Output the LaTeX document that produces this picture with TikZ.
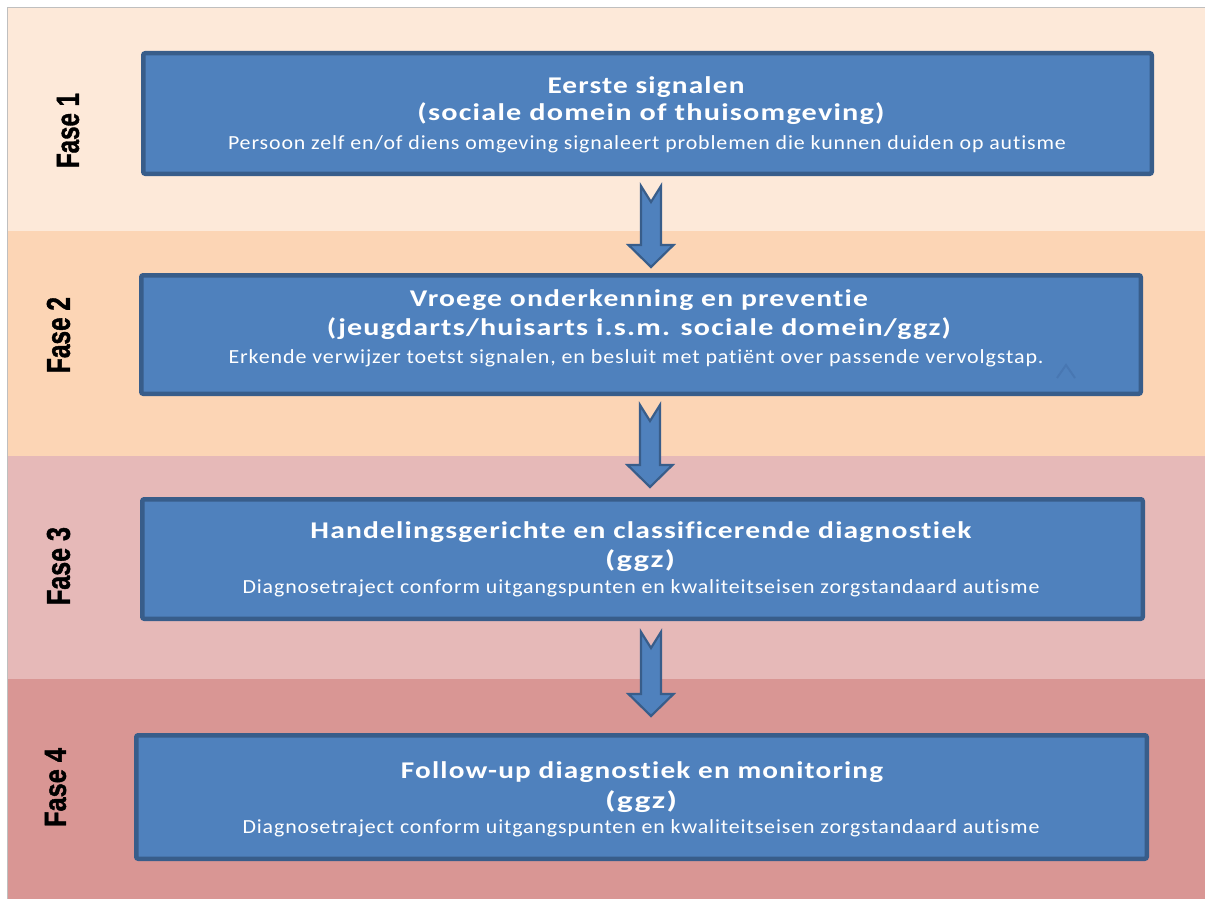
\documentclass[tikz,border=0pt]{standalone}
\usepackage{fontspec}
\usepackage{graphicx}
\newfontfamily\calfont[LetterSpace=4,Ligatures={NoCommon}]{Carlito}
\newfontfamily\arialfont[FakeBold=1.5]{Liberation Sans}
\definecolor{bandA}{HTML}{FDE9D9}
\definecolor{bandB}{HTML}{FCD5B5}
\definecolor{bandC}{HTML}{E6B9B8}
\definecolor{bandD}{HTML}{D99694}
\definecolor{boxfill}{HTML}{4F81BD}
\definecolor{boxline}{HTML}{385D8A}
\definecolor{frameline}{HTML}{BFBFBF}
\definecolor{chevcol}{HTML}{4877B2}
\newcommand\fitto[2]{\resizebox{#1}{\height}{#2}}
\tikzset{
  phasebox/.style={draw=boxline, fill=boxfill, line width=4.5pt, rounded corners=2pt, inner sep=0pt},
  ttl/.style={text=white, inner sep=0pt, anchor=base, font=\calfont\bfseries\fontsize{24}{28}\selectfont},
  subt/.style={text=white, inner sep=0pt, anchor=base, font=\calfont\fontsize{20}{22}\selectfont},
  fase/.style={rotate=90, inner sep=0pt, text=black, font=\arialfont\bfseries\fontsize{24}{26}\selectfont},
  arrowsty/.style={draw=boxline, fill=boxfill, line width=2.2pt, line join=miter},
  pics/downarr/.style={code={
    \draw[arrowsty] (-10,0) -- (0,16) -- (10,0) -- (10,{#1-22}) -- (22.5,{#1-22})
      -- (0,#1) -- (-22.5,{#1-22}) -- (-10,{#1-22}) -- cycle;
  }}
}
\begin{document}
\begin{tikzpicture}[x=1pt,y=-1pt]
\useasboundingbox (0,0) rectangle (1205,899);
\fill[white] (0,0) rectangle (1205,899);
% bands
\fill[bandA] (7,8) rectangle (1205,231);
\fill[bandB] (7,231) rectangle (1205,456);
\fill[bandC] (7,456) rectangle (1205,679);
\fill[bandD] (7,679) rectangle (1205,899);
\draw[frameline, line width=1pt] (7,899) -- (7,8) -- (1205,8);
% phase labels
\node[fase] (f1) at (68,130.5) {\resizebox{75pt}{22pt}{Fase 1}};
\node[fase] (f2) at (58.5,335) {\resizebox{76pt}{23pt}{Fase 2}};
\node[fase] (f3) at (58.5,566) {\resizebox{78pt}{23pt}{Fase 3}};
\node[fase] (f4) at (55.5,787.5) {\resizebox{79pt}{21pt}{Fase 4}};
% boxes
\node[phasebox, minimum width=1008.5pt, minimum height=120.5pt] (b1) at (647.5,113.5) {};
\node[phasebox, minimum width=999.5pt, minimum height=118.5pt] (b2) at (641,334.5) {};
\node[phasebox, minimum width=1000.5pt, minimum height=119.5pt] (b3) at (642.5,559) {};
\node[phasebox, minimum width=1010.5pt, minimum height=123.5pt] (b4) at (641.5,797) {};
% box texts
\node[ttl] (b1t1) at (646,93) {\fitto{197pt}{Eerste signalen}};
\node[ttl] (b1t2) at (651,121) {\fitto{467pt}{(sociale domein of thuisomgeving)}};
\node[subt] (b1s) at (647,149) {\fitto{838pt}{Persoon zelf en/of diens omgeving signaleert problemen die kunnen duiden op autisme}};
\node[ttl] (b2t1) at (639,306) {\fitto{458pt}{Vroege onderkenning en preventie}};
\node[ttl] (b2t2) at (639,335) {\fitto{624pt}{(jeugdarts/huisarts i.s.m. sociale domein/ggz)}};
\node[subt] (b2s) at (636,363) {\fitto{815pt}{Erkende verwijzer toetst signalen, en besluit met patiënt over passende vervolgstap.}};
\node[ttl] (b3t1) at (641,538) {\fitto{661pt}{Handelingsgerichte en classificerende diagnostiek}};
\node[ttl] (b3t2) at (640,567) {\fitto{70pt}{(ggz)}};
\node[subt] (b3s) at (641,593) {\fitto{797pt}{Diagnosetraject conform uitgangspunten en kwaliteitseisen zorgstandaard autisme}};
\node[ttl] (b4t1) at (642,778) {\fitto{482pt}{Follow-up diagnostiek en monitoring}};
\node[ttl] (b4t2) at (641,808) {\fitto{72pt}{(ggz)}};
\node[subt] (b4s) at (641,833) {\fitto{797pt}{Diagnosetraject conform uitgangspunten en kwaliteitseisen zorgstandaard autisme}};
% faint chevron mark in box 2
\draw[chevcol, line width=2pt] (1057,378) -- (1066,365) -- (1075,378);
% block arrows
\pic at (651,186) {downarr=81};
\pic at (650,405) {downarr=82};
\pic at (651,632) {downarr=84};
\end{tikzpicture}
\end{document}
